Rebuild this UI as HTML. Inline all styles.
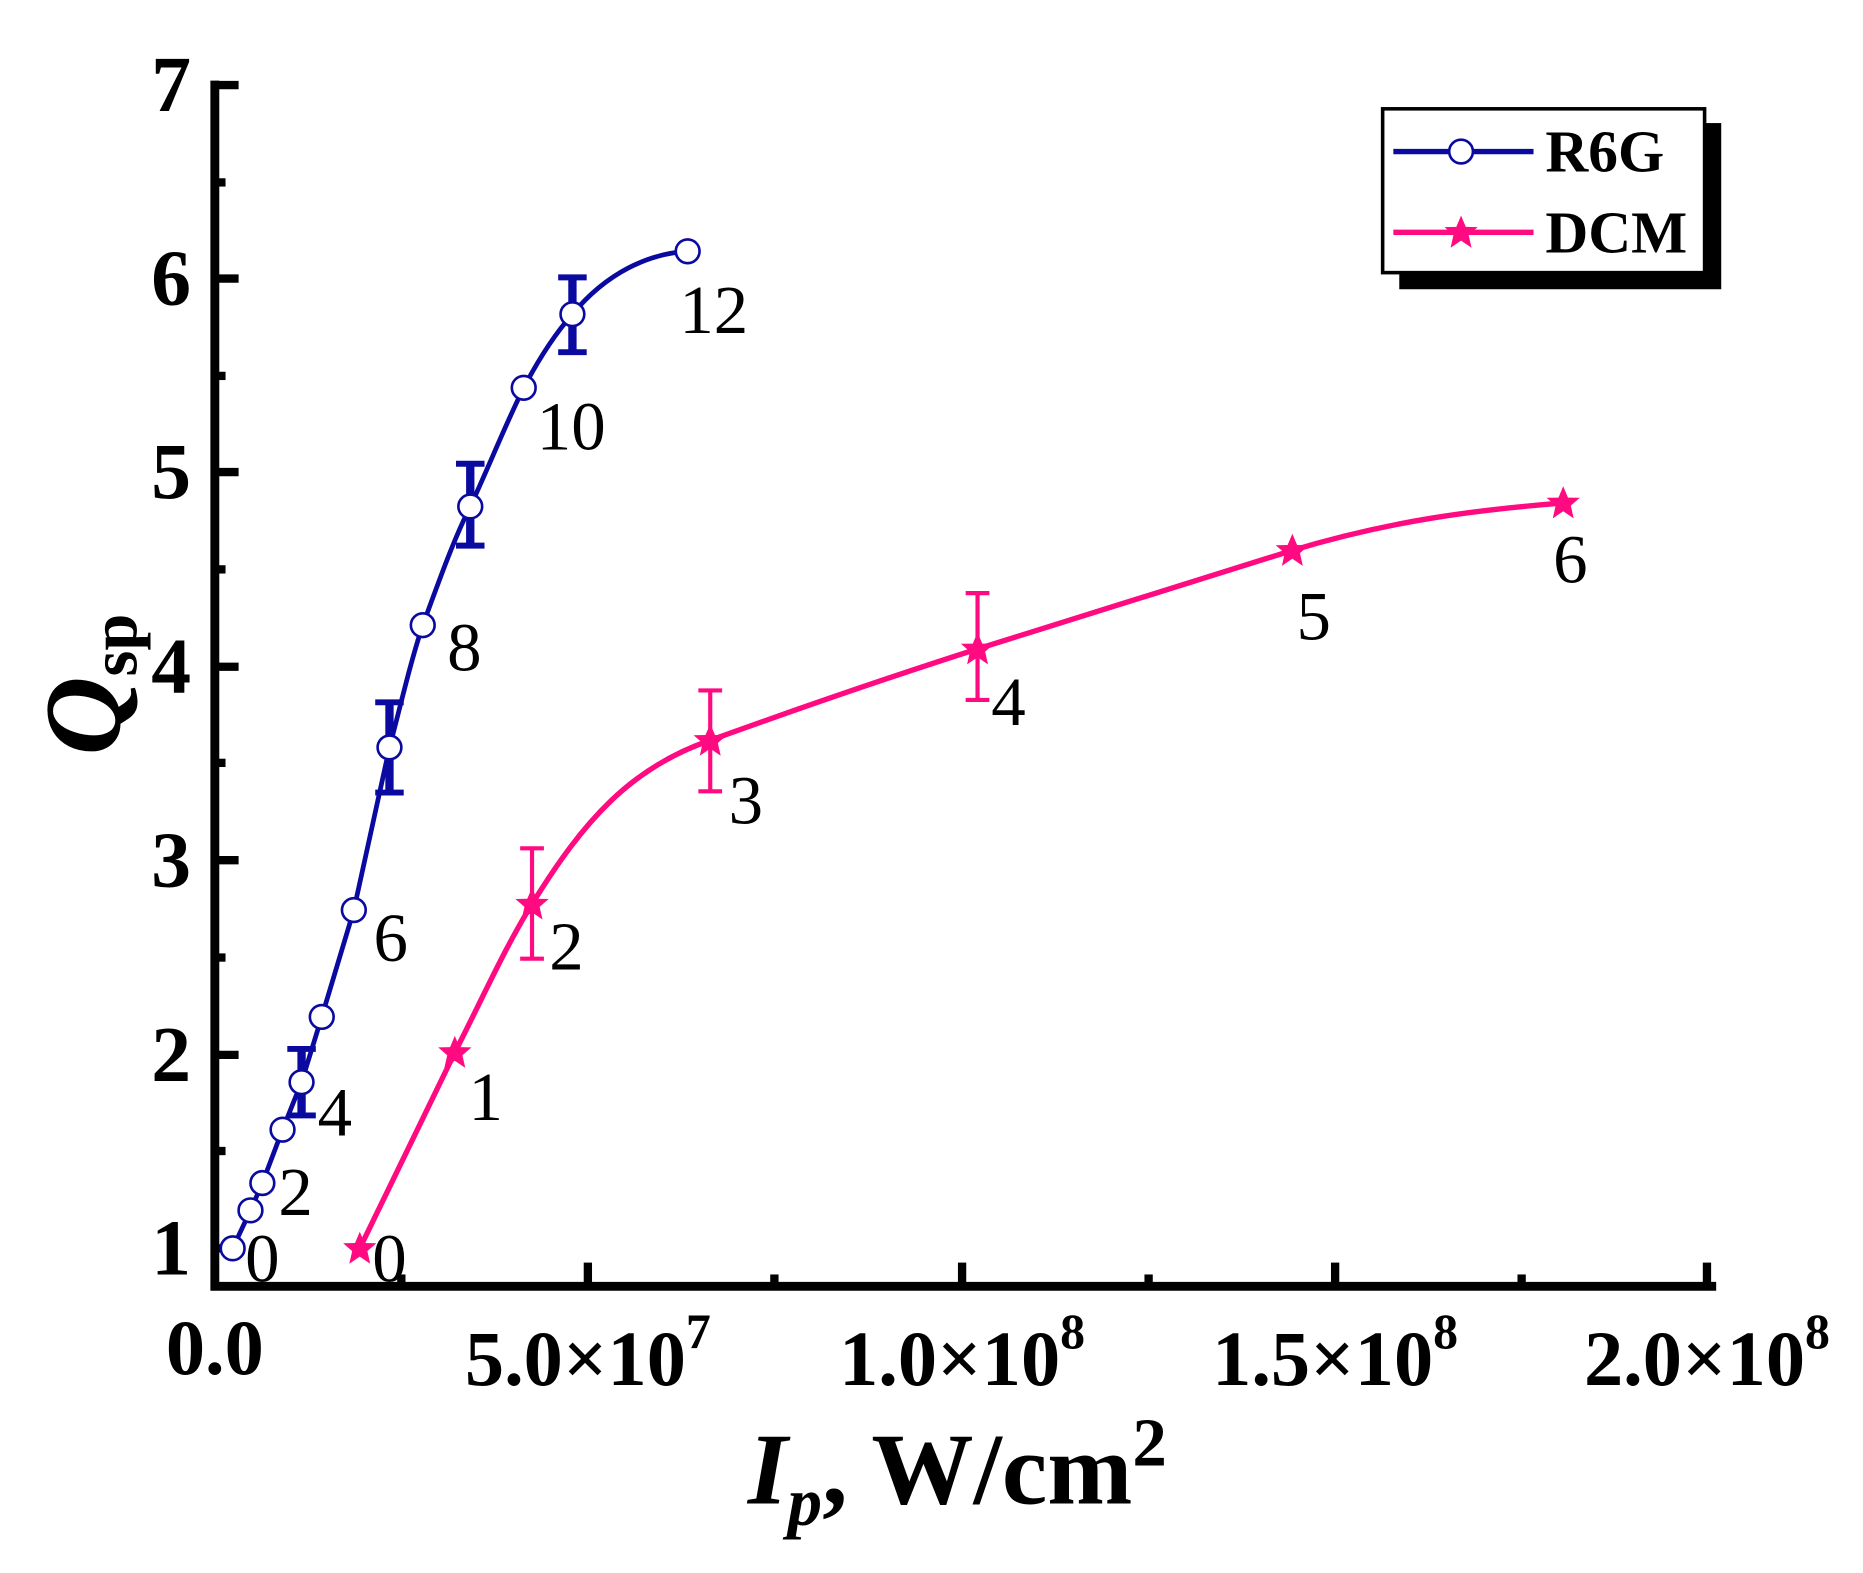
<!DOCTYPE html>
<html><head><meta charset="utf-8"><style>
html,body{margin:0;padding:0;background:#fff;}
svg{display:block;}
text{font-family:"Liberation Serif",serif;}
</style></head><body>
<svg width="1863" height="1573" viewBox="0 0 1863 1573" xmlns="http://www.w3.org/2000/svg">
<defs>
<path id="star" d="M0,-14 L4,-4.5 L14,-4.3 L6.4,2.3 L8.8,13 L0,7 L-8.8,13 L-6.4,2.3 L-14,-4.3 L-4,-4.5 Z" fill="#ff0a80"/>
</defs>
<g transform="matrix(1.188,0,0,1.187,1,2)">
<path d="M180,70 L180,1082 L1440,1082" fill="none" stroke="#000" stroke-width="7.5" stroke-linecap="square"/>
<g stroke="#000" stroke-width="7">
<line x1="180" y1="70" x2="200" y2="70"/>
<line x1="180" y1="233" x2="200" y2="233"/>
<line x1="180" y1="396" x2="200" y2="396"/>
<line x1="180" y1="560" x2="200" y2="560"/>
<line x1="180" y1="723" x2="200" y2="723"/>
<line x1="180" y1="887" x2="200" y2="887"/>
<line x1="180" y1="1050" x2="200" y2="1050"/>
<line x1="180" y1="152" x2="189" y2="152"/>
<line x1="180" y1="315" x2="189" y2="315"/>
<line x1="180" y1="478" x2="189" y2="478"/>
<line x1="180" y1="641" x2="189" y2="641"/>
<line x1="180" y1="805" x2="189" y2="805"/>
<line x1="180" y1="968" x2="189" y2="968"/>
<line x1="494" y1="1082" x2="494" y2="1062"/>
<line x1="809" y1="1082" x2="809" y2="1062"/>
<line x1="1123" y1="1082" x2="1123" y2="1062"/>
<line x1="1436" y1="1082" x2="1436" y2="1062"/>
<line x1="337" y1="1082" x2="337" y2="1072"/>
<line x1="651" y1="1082" x2="651" y2="1072"/>
<line x1="966" y1="1082" x2="966" y2="1072"/>
<line x1="1280" y1="1082" x2="1280" y2="1072"/>
</g>
<g font-size="67" font-weight="bold" text-anchor="end">
<text x="160" y="92">7</text>
<text x="160" y="255">6</text>
<text x="160" y="418">5</text>
<text x="160" y="582">4</text>
<text x="160" y="745">3</text>
<text x="160" y="909">2</text>
<text x="160" y="1072">1</text>
</g>
<g font-size="66" font-weight="bold" text-anchor="middle">
<text x="180" y="1156">0.0</text>
<text x="494" y="1165">5.0×10<tspan font-size="42" dy="-31">7</tspan></text>
<text x="809" y="1165">1.0×10<tspan font-size="42" dy="-31">8</tspan></text>
<text x="1123" y="1165">1.5×10<tspan font-size="42" dy="-31">8</tspan></text>
<text x="1436" y="1165">2.0×10<tspan font-size="42" dy="-31">8</tspan></text>
</g>
<text x="805" y="1265" font-size="86" font-weight="bold" text-anchor="middle"><tspan font-style="italic">I</tspan><tspan font-style="italic" font-size="58" dy="18">p</tspan><tspan dy="-18">, W/cm</tspan><tspan font-size="58" dy="-32">2</tspan></text>
<text transform="translate(100,575) rotate(-90)" font-size="92" font-weight="bold" text-anchor="middle"><tspan font-style="italic">Q</tspan><tspan font-size="56" dy="14">sp</tspan></text>

<!-- R6G -->
<path fill="none" stroke="#0a0aa0" stroke-width="4" stroke-linejoin="round" d="M195,1050 L210,1018 L220,995 L237,950 L253,910 L270,855 L297,765 L327,628 C337,590 345,555 355,525 C368,490 380,455 395,425 C410,393 425,355 440,325 C452,302 466,280 481,263 C510,228 545,212 578,210"/>
<g stroke="#0a0aa0" fill="none">
<line x1="253" y1="880" x2="253" y2="940" stroke-width="7"/>
<line x1="241" y1="882" x2="265" y2="882" stroke-width="5"/>
<line x1="241" y1="938" x2="265" y2="938" stroke-width="5"/>
<line x1="327" y1="588" x2="327" y2="668" stroke-width="7"/>
<line x1="315" y1="590" x2="339" y2="590" stroke-width="5"/>
<line x1="315" y1="666" x2="339" y2="666" stroke-width="5"/>
<line x1="395" y1="387" x2="395" y2="460" stroke-width="7"/>
<line x1="383" y1="389" x2="407" y2="389" stroke-width="5"/>
<line x1="383" y1="458" x2="407" y2="458" stroke-width="5"/>
<line x1="481" y1="230" x2="481" y2="297" stroke-width="7"/>
<line x1="469" y1="232" x2="493" y2="232" stroke-width="5"/>
<line x1="469" y1="295" x2="493" y2="295" stroke-width="5"/>
</g>
<g fill="#fff" stroke="#0a0aa0" stroke-width="2.2">
<circle cx="195" cy="1050" r="10"/><circle cx="210" cy="1018" r="10"/><circle cx="220" cy="995" r="10"/>
<circle cx="237" cy="950" r="10"/><circle cx="253" cy="910" r="10"/><circle cx="270" cy="855" r="10"/>
<circle cx="297" cy="765" r="10"/><circle cx="327" cy="628" r="10"/><circle cx="355" cy="525" r="10"/>
<circle cx="395" cy="425" r="10"/><circle cx="440" cy="325" r="10"/><circle cx="481" cy="263" r="10"/>
<circle cx="578" cy="210" r="10"/>
</g>
<!-- DCM -->
<path fill="none" stroke="#ff0a80" stroke-width="4.5" stroke-linejoin="round" d="M302,1050 L382,885 C405,840 425,795 447,760 C490,690 530,645 597,622 C680,592 750,568 822,545 C910,517 1000,490 1087,462 C1170,437 1240,428 1315,422"/>
<g stroke="#ff0a80" stroke-width="3.5">
<line x1="447" y1="713" x2="447" y2="806"/><line x1="437" y1="713" x2="457" y2="713"/><line x1="437" y1="806" x2="457" y2="806"/>
<line x1="597" y1="580" x2="597" y2="665"/><line x1="587" y1="580" x2="607" y2="580"/><line x1="587" y1="665" x2="607" y2="665"/>
<line x1="822" y1="498" x2="822" y2="588"/><line x1="812" y1="498" x2="832" y2="498"/><line x1="812" y1="588" x2="832" y2="588"/>
</g>
<use href="#star" x="302" y="1050"/><use href="#star" x="382" y="885"/><use href="#star" x="447" y="760"/>
<use href="#star" x="597" y="622"/><use href="#star" x="822" y="545"/><use href="#star" x="1087" y="462"/>
<use href="#star" x="1315" y="422"/>
<g font-size="58" text-anchor="middle">
<text x="220" y="1078">0</text><text x="248" y="1022">2</text><text x="281" y="955">4</text>
<text x="328" y="808">6</text><text x="390" y="563">8</text><text x="480" y="377">10</text>
<text x="600" y="279">12</text>
<text x="327" y="1078">0</text><text x="408" y="942">1</text><text x="476" y="815">2</text>
<text x="627" y="692">3</text><text x="848" y="609">4</text><text x="1105" y="537">5</text>
<text x="1321" y="489">6</text>
</g>
<rect x="1177" y="102" width="271" height="140" fill="#000"/>
<rect x="1163" y="90" width="271" height="138" fill="#fff" stroke="#000" stroke-width="3"/>
<line x1="1172" y1="126" x2="1290" y2="126" stroke="#0a0aa0" stroke-width="4.5"/>
<circle cx="1229" cy="126" r="10" fill="#fff" stroke="#0a0aa0" stroke-width="2.2"/>
<line x1="1172" y1="194" x2="1290" y2="194" stroke="#ff0a80" stroke-width="4.5"/>
<use href="#star" x="1229" y="194"/>
<g font-size="50" font-weight="bold"><text x="1300" y="143">R6G</text><text x="1300" y="211">DCM</text></g>
</g>
</svg>
</body></html>
